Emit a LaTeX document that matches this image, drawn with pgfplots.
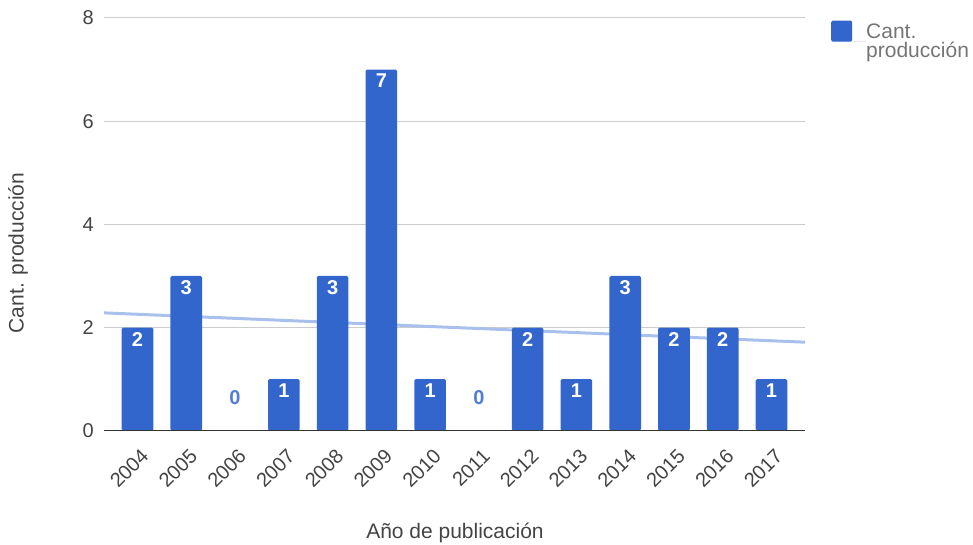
\documentclass[border=0pt]{standalone}
\usepackage{pgfplots}
\pgfplotsset{compat=1.18}
\usepackage{fontspec}
\setmainfont{Liberation Sans}
\definecolor{barblue}{HTML}{3366CC}
\definecolor{trendblue}{HTML}{A9C0EC}
\definecolor{tickgray}{HTML}{444444}
\definecolor{titlegray}{HTML}{444444}
\definecolor{leggray}{HTML}{757575}
\definecolor{gridgray}{HTML}{CCCCCC}
\definecolor{basegray}{HTML}{333333}
\begin{document}
\begin{tikzpicture}[x=1pt,y=1pt]
\begin{axis}[
  at={(104pt,114.3pt)}, anchor=south west,
  scale only axis, width=701pt, height=412.7pt,
  xmin=-0.687, xmax=13.687, ymin=0, ymax=8,
  axis x line=bottom, axis y line=left,
  x axis line style={draw=none},
  y axis line style={draw=none},
  major tick length=0pt,
  xtick={0,...,13},
  xticklabels={2004,2005,2006,2007,2008,2009,2010,2011,2012,2013,2014,2015,2016,2017},
  xticklabel style={font=\fontsize{20}{24}\selectfont, text=tickgray, inner sep=0pt, xshift=7.5pt, yshift=-21.8pt, rotate=45, anchor=east},
  ytick={0,2,4,6,8},
  ymajorgrids, grid style={gridgray, line width=1pt},
  /pgf/number format/assume math mode=true,
  yticklabel style={font=\fontsize{20}{24}\selectfont, text=tickgray, inner sep=0pt, anchor=east, xshift=-10pt},
  ylabel={Cant. producción},
  every axis y label/.style={at={(axis description cs:-0.1227,0.4306)}, rotate=90, anchor=center, font=\fontsize{21}{25}\selectfont, text=titlegray},
  xlabel={Año de publicación},
  every axis x label/.style={at={(axis description cs:0.5007,-0.248)}, anchor=center, font=\fontsize{21}{25}\selectfont, text=titlegray},
  legend style={at={(axis description cs:1,1)}, anchor=north west, draw=none, fill=none,
     xshift=23pt, yshift=-0.5pt, font=\fontsize{21}{19}\selectfont, text=leggray,
     nodes={align=left, inner sep=0pt}},
  legend image code/.code={\fill[barblue, rounded corners=1.5pt] (0pt,0pt) rectangle (21pt,21pt); \path (0pt,0pt) -- (35pt,0pt);},
  legend cell align=left,
]
% trendline
\addplot[no marks, trendblue, line width=3pt, forget plot] coordinates {(-0.687,2.284) (13.687,1.716)};
% bars
\addplot[ybar, bar shift=0pt, bar width=31.6pt, fill=barblue, draw=none, rounded corners=1.5pt,
  nodes near coords,
  nodes near coords style={font=\bfseries\fontsize{20}{24}\selectfont, text=white, anchor=center, inner sep=0pt, yshift=-11.5pt},
  /pgf/number format/assume math mode=true]
 coordinates {(0,2) (1,3) (3,1) (4,3) (5,7) (6,1) (8,2) (9,1) (10,3) (11,2) (12,2) (13,1)};
\addlegendentry{Cant.\\producción}
% zero labels
\addplot[draw=none, mark=none, forget plot,
  nodes near coords,
  nodes near coords style={font=\bfseries\fontsize{20}{24}\selectfont, text=barblue!85, anchor=center, inner sep=0pt, yshift=32.7pt},
  /pgf/number format/assume math mode=true]
 coordinates {(2,0) (7,0)};
% baseline
\addplot[no marks, basegray, line width=1.3pt, forget plot] coordinates {(-0.687,0) (13.687,0)};
\end{axis}
\pgfresetboundingbox
\useasboundingbox (0,0) rectangle (973,545);
\end{tikzpicture}
\end{document}
